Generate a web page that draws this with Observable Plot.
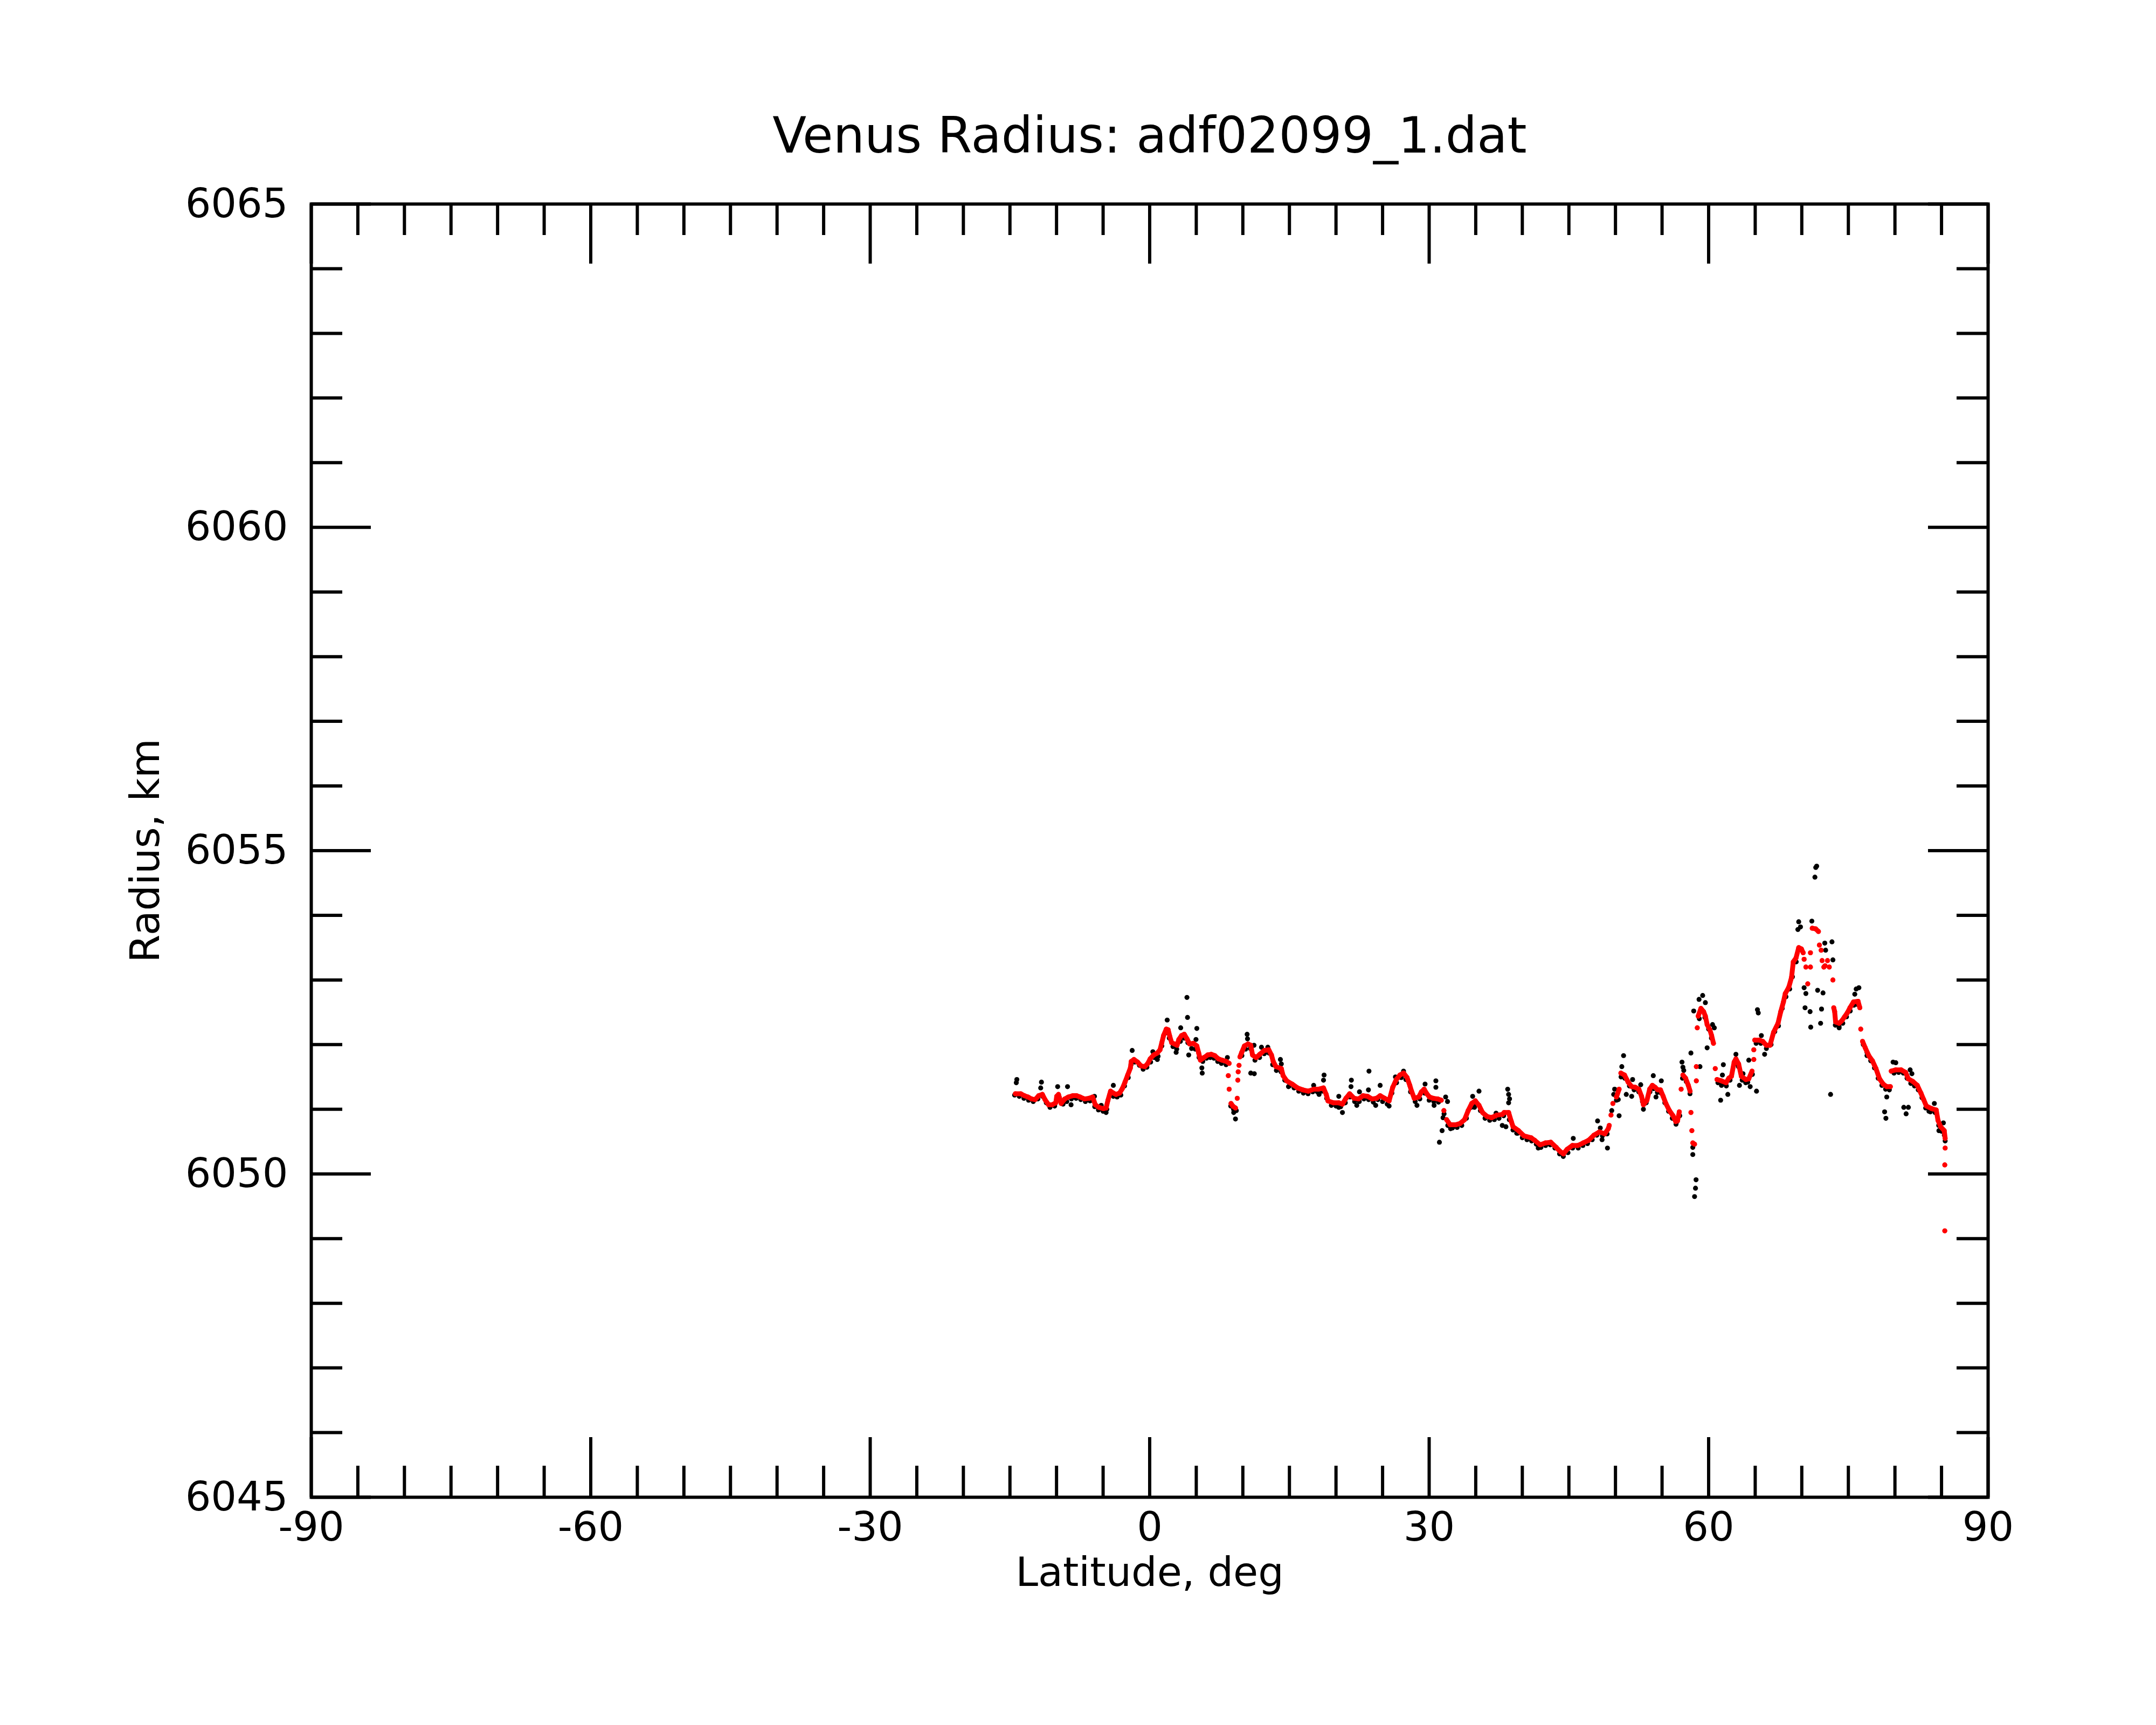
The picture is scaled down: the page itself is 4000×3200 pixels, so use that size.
<!DOCTYPE html>
<html>
<head>
<meta charset="utf-8">
<script src="https://cdn.jsdelivr.net/npm/d3@7"></script>
<script src="https://cdn.jsdelivr.net/npm/@observablehq/plot@0.6"></script>
<style>
html, body { margin: 0; padding: 0; background: #ffffff; }
svg { display: block; }
</style>
</head>
<body>
<div id="chart"></div>
<script>
// ---------- text ----------
const titleText = "Venus Radius: adf02099_1.dat";
const xLabelText = "Latitude, deg";
const yLabelText = "Radius, km";

// ---------- axes ----------
const xDomain = [-90, 90];
const yDomain = [6045, 6065];
const xMajorTicks = [-90, -60, -30, 0, 30, 60, 90];
const xMinorTicks = [-85, -80, -75, -70, -65, -55, -50, -45, -40, -35, -25, -20, -15, -10, -5,
                     5, 10, 15, 20, 25, 35, 40, 45, 50, 55, 65, 70, 75, 80, 85];
const yMajorTicks = [6045, 6050, 6055, 6060, 6065];
const yMinorTicks = [6046, 6047, 6048, 6049, 6051, 6052, 6053, 6054, 6056, 6057, 6058, 6059,
                     6061, 6062, 6063, 6064];

// ---------- smoothed radius (red), [latitude, radius km], grouped in runs ----------
const smoothedRuns = [
  [[-14.42,6051.24],[-13.84,6051.24],[-13.45,6051.21],[-13.07,6051.19],[-12.68,6051.16],[-12.3,6051.15],
   [-11.91,6051.21],[-11.52,6051.23],[-11.24,6051.15],[-10.85,6051.07],[-10.46,6051.07],[-10.08,6051.10],
   [-9.98,6051.20],[-9.79,6051.23],[-9.5,6051.09],[-9.11,6051.16],[-8.73,6051.19],[-8.25,6051.21],
   [-7.86,6051.21],[-7.47,6051.19],[-6.99,6051.16],[-6.51,6051.17],[-6.12,6051.19],[-5.84,6051.07],
   [-5.45,6051.03],[-4.97,6051.01],[-4.68,6051.02],[-4.48,6051.14],[-4.2,6051.28],[-3.9,6051.25],
   [-3.62,6051.23],[-3.23,6051.25],[-2.94,6051.32],[-2.65,6051.42],[-2.36,6051.53],[-2.07,6051.64],
   [-1.98,6051.74],[-1.69,6051.77],[-1.3,6051.73],[-0.92,6051.67],[-0.53,6051.66],[-0.24,6051.70],
   [0.05,6051.78],[0.43,6051.84],[0.82,6051.87],[1.11,6051.92],[1.3,6052.03],[1.49,6052.14],
   [1.78,6052.24],[1.98,6052.23],[2.17,6052.12],[2.36,6052.03],[2.65,6052.01],[2.94,6051.99],
   [3.13,6052.08],[3.42,6052.14],[3.71,6052.16],[4.0,6052.09],[4.29,6052.01],[4.68,6052.02],
   [5.06,6051.98],[5.26,6051.87],[5.45,6051.76],[5.83,6051.80],[6.22,6051.84],[6.6,6051.85],
   [6.99,6051.83],[7.38,6051.78],[7.76,6051.76],[8.24,6051.74],[8.53,6051.71]],
  [[8.44,6051.52]],
  [[8.53,6051.31]],
  [[8.73,6051.09],[8.92,6051.05],[9.21,6051.02]],
  [[9.4,6051.17]],
  [[9.46,6051.45]],
  [[9.5,6051.58]],
  [[9.59,6051.68]],
  [[9.69,6051.81],[9.88,6051.88],[10.17,6051.98],[10.56,6052.01],[10.85,6051.99],[11.04,6051.84],
   [11.33,6051.81],[11.43,6051.80],[11.82,6051.85],[12.3,6051.91],[12.78,6051.92],[13.07,6051.84],
   [13.26,6051.74],[13.55,6051.66],[14.13,6051.63],[14.32,6051.52],[14.71,6051.44],[15.29,6051.39],
   [15.87,6051.33],[16.44,6051.30],[17.02,6051.28],[17.6,6051.31],[18.08,6051.31],[18.66,6051.33],
   [18.95,6051.23],[19.14,6051.13],[19.72,6051.10],[20.3,6051.10],[20.69,6051.08],[21.07,6051.17],
   [21.46,6051.24],[21.94,6051.17],[22.42,6051.16],[22.91,6051.21],[23.39,6051.20],[23.87,6051.16],
   [24.35,6051.17],[24.74,6051.21],[25.22,6051.17],[25.7,6051.13],[26.09,6051.34],[26.47,6051.46],
   [26.86,6051.53],[27.25,6051.56],[27.63,6051.49],[27.92,6051.37],[28.11,6051.28],[28.4,6051.17],
   [28.88,6051.19],[29.17,6051.27],[29.46,6051.31],[29.75,6051.24],[30.04,6051.19],[30.43,6051.17],
   [30.91,6051.16],[31.3,6051.14]],
  [[31.58,6050.98]],
  [[31.87,6050.84],[32.26,6050.76],[32.84,6050.76],[33.32,6050.78],[33.8,6050.84],[34.19,6050.98],
   [34.57,6051.09],[34.96,6051.13],[35.35,6051.06],[35.73,6050.95],[36.21,6050.89],[36.7,6050.87],
   [37.27,6050.91],[37.85,6050.92],[38.05,6050.95],[38.53,6050.95],[38.82,6050.81],[39.01,6050.73],
   [39.59,6050.67],[40.17,6050.59],[40.94,6050.56],[41.33,6050.52],[41.91,6050.45],[42.48,6050.48],
   [43.06,6050.49],[43.64,6050.41],[44.12,6050.34],[44.41,6050.31],[44.8,6050.38],[45.38,6050.44],
   [45.96,6050.44],[46.53,6050.48],[47.11,6050.52],[47.69,6050.60],[48.27,6050.65],[48.85,6050.62],
   [49.23,6050.70],[49.33,6050.75]],
  [[49.52,6050.91]],
  [[49.72,6051.09]],
  [[50.1,6051.19],[50.39,6051.31]],
  [[50.58,6051.56],[50.97,6051.53],[51.36,6051.42],[51.74,6051.35],[52.13,6051.34],[52.51,6051.31],
   [52.8,6051.20],[53.0,6051.07],[53.38,6051.14],[53.67,6051.31],[53.96,6051.37],[54.25,6051.34],
   [54.54,6051.30],[54.83,6051.30],[55.12,6051.20],[55.41,6051.09],[55.79,6050.98],[56.18,6050.90],
   [56.47,6050.81],[56.66,6050.82],[56.85,6050.96]],
  [[57.05,6051.31]],
  [[57.24,6051.53],[57.53,6051.48],[57.82,6051.37],[58.01,6051.28]],
  [[58.1,6050.95]],
  [[58.2,6050.67]],
  [[58.3,6050.48],[58.49,6050.46]],
  [[58.68,6051.44]],
  [[58.68,6051.66]],
  [[58.78,6052.26]],
  [[58.88,6052.44],[59.17,6052.56],[59.46,6052.51],[59.65,6052.44],[59.84,6052.31],[60.13,6052.23],
   [60.32,6052.14],[60.52,6052.02]],
  [[60.71,6051.63]],
  [[60.9,6051.46],[61.38,6051.44],[61.87,6051.41],[62.16,6051.48],[62.45,6051.51],[62.74,6051.73],
   [62.93,6051.78],[63.22,6051.70],[63.51,6051.51],[64.0,6051.46],[64.3,6051.47],[64.66,6051.59]],
  [[64.85,6051.77]],
  [[64.85,6051.92]],
  [[64.95,6052.07],[65.43,6052.07],[65.81,6052.05],[66.2,6051.99],[66.59,6051.99],[66.97,6052.19],
   [67.45,6052.33],[67.74,6052.51],[68.03,6052.66],[68.23,6052.79],[68.61,6052.89],[68.9,6053.04],
   [69.09,6053.28],[69.38,6053.34],[69.67,6053.50],[69.96,6053.48],[70.15,6053.42]],
  [[70.25,6053.32]],
  [[70.44,6053.20]],
  [[70.64,6052.94]],
  [[70.93,6053.20]],
  [[70.93,6053.42]],
  [[71.12,6053.80],[71.5,6053.79],[71.79,6053.75]],
  [[71.89,6053.54]],
  [[72.08,6053.46]],
  [[72.18,6053.30]],
  [[72.37,6053.20],[72.5,6053.22]],
  [[72.76,6053.30]],
  [[72.95,6053.20]],
  [[73.34,6053.00]],
  [[73.43,6052.57],[73.53,6052.51],[73.63,6052.35],[74.01,6052.33],[74.3,6052.37],[74.59,6052.43],
   [74.88,6052.49],[75.17,6052.57],[75.55,6052.66],[76.04,6052.67],[76.23,6052.57]],
  [[76.33,6052.24]],
  [[76.52,6052.05],[76.81,6051.95],[77.19,6051.83],[77.58,6051.75],[77.96,6051.63],[78.35,6051.47],
   [78.74,6051.39],[79.12,6051.35],[79.51,6051.35]],
  [[79.6,6051.59],[80.09,6051.61],[80.66,6051.61],[81.15,6051.57],[81.44,6051.47],[81.92,6051.43],
   [82.4,6051.37],[82.79,6051.25],[83.08,6051.15],[83.37,6051.05],[83.94,6051.01],[84.43,6050.99],
   [84.62,6050.83],[84.91,6050.73],[85.29,6050.67],[85.39,6050.55]],
  [[85.39,6050.40]],
  [[85.35,6050.14]],
  [[85.35,6049.12]]
];

// ---------- raw radius samples (black), [latitude, radius km] ----------
const rawTrack = [
  [-14.5,6051.22],[-14.0,6051.20],[-13.5,6051.17],[-13.0,6051.14],[-12.5,6051.12],[-12.0,6051.16],
  [-11.5,6051.20],[-11.1,6051.10],[-10.7,6051.03],[-10.2,6051.05],[-9.7,6051.18],[-9.3,6051.08],
  [-8.9,6051.12],[-8.4,6051.16],[-7.9,6051.17],[-7.4,6051.15],[-6.9,6051.12],[-6.4,6051.13],
  [-5.9,6051.04],[-5.5,6050.99],[-5.0,6050.97],[-4.6,6051.00],[-4.3,6051.22],[-3.9,6051.20],
  [-3.5,6051.19],[-3.1,6051.22],[-2.7,6051.36],[-2.3,6051.49],[-2.0,6051.69],[-1.6,6051.73],
  [-1.1,6051.68],[-0.7,6051.62],[-0.3,6051.65],[0.1,6051.73],[0.5,6051.80],[0.9,6051.82],
  [1.3,6051.98],[1.7,6052.18],[2.1,6052.10],[2.5,6051.97],[2.9,6051.93],[3.3,6052.05],
  [3.7,6052.10],[4.1,6052.03],[4.5,6051.94],[4.9,6051.93],[5.3,6051.80],[5.7,6051.74],
  [6.1,6051.79],[6.5,6051.80],[6.9,6051.79],[7.3,6051.74],[7.7,6051.71],[8.2,6051.69],
  [8.7,6051.05],[9.0,6051.00],[9.3,6050.98],[9.9,6051.83],[10.3,6051.93],[10.8,6051.94],
  [11.3,6051.76],[11.8,6051.80],[12.3,6051.86],[12.8,6051.87],[13.2,6051.69],[13.6,6051.60],
  [14.1,6051.58],[14.5,6051.45],[15.0,6051.36],[15.5,6051.33],[16.0,6051.28],[16.5,6051.25],
  [17.0,6051.24],[17.5,6051.27],[18.0,6051.27],[18.5,6051.28],[19.0,6051.17],[19.5,6051.06],
  [20.0,6051.05],[20.5,6051.04],[21.0,6051.10],[21.5,6051.19],[22.0,6051.12],[22.5,6051.12],
  [23.0,6051.16],[23.5,6051.15],[24.0,6051.11],[24.5,6051.15],[25.0,6051.12],[25.5,6051.08],
  [26.0,6051.25],[26.5,6051.41],[27.0,6051.49],[27.5,6051.46],[28.0,6051.27],[28.5,6051.12],
  [29.0,6051.16],[29.5,6051.25],[30.0,6051.14],[30.5,6051.12],[31.0,6051.11],[31.6,6050.93],
  [32.0,6050.75],[32.5,6050.71],[33.0,6050.72],[33.5,6050.75],[34.0,6050.86],[34.5,6051.03],
  [35.0,6051.08],[35.5,6050.98],[36.0,6050.86],[36.5,6050.83],[37.0,6050.84],[37.5,6050.86],
  [38.0,6050.90],[38.6,6050.84],[39.0,6050.68],[39.5,6050.63],[40.0,6050.56],[40.5,6050.53],
  [41.0,6050.51],[41.5,6050.46],[42.0,6050.41],[42.5,6050.44],[43.0,6050.45],[43.5,6050.40],
  [44.0,6050.31],[44.4,6050.27],[44.9,6050.33],[45.4,6050.40],[46.0,6050.40],[46.5,6050.44],
  [47.0,6050.47],[47.5,6050.53],[48.0,6050.60],[48.6,6050.59],[49.1,6050.62],[49.6,6050.98],
  [50.1,6051.14],[50.6,6051.50],[51.0,6051.48],[51.5,6051.36],[52.0,6051.30],[52.5,6051.27],
  [52.9,6051.12],[53.3,6051.10],[53.7,6051.27],[54.1,6051.32],[54.5,6051.26],[54.9,6051.25],
  [55.3,6051.10],[55.7,6050.97],[56.1,6050.86],[56.5,6050.77],[56.9,6050.90],[57.2,6051.48],
  [57.6,6051.43],[58.0,6051.24],[59.0,6052.40],[59.3,6052.52],[59.6,6052.42],[60.0,6052.24],
  [60.3,6052.10],[61.0,6051.41],[61.5,6051.40],[61.9,6051.36],[62.3,6051.45],[62.8,6051.70],
  [63.2,6051.66],[63.6,6051.45],[64.2,6051.42],[64.7,6051.54],[65.1,6052.02],[65.6,6052.02],
  [66.2,6051.94],[66.7,6052.00],[67.1,6052.20],[67.5,6052.29],[67.9,6052.56],[68.3,6052.74],
  [68.7,6052.86],[69.0,6053.05],[69.4,6053.28],[73.6,6052.30],[74.0,6052.28],[74.4,6052.33],
  [74.8,6052.43],[75.2,6052.52],[75.6,6052.61],[76.0,6052.62],[76.6,6052.00],[77.0,6051.88],
  [77.4,6051.75],[77.8,6051.64],[78.2,6051.48],[78.6,6051.37],[79.0,6051.31],[79.4,6051.30],
  [79.9,6051.56],[80.4,6051.57],[80.9,6051.56],[81.3,6051.48],[81.7,6051.40],[82.1,6051.36],
  [82.5,6051.30],[82.9,6051.18],[83.3,6051.02],[83.8,6050.96],[84.3,6050.95],[84.7,6050.75],
  [85.0,6050.66],[85.3,6050.60]
];
const rawScatter = [
  [-14.26,6051.46],[-14.32,6051.41],[-11.62,6051.42],[-11.70,6051.33],[-9.88,6051.35],[-8.82,6051.35],
  [-8.44,6051.07],[-5.93,6051.20],[-3.90,6051.37],[-4.68,6050.95],[-5.2,6051.06],[-1.88,6051.91],
  [0.82,6051.77],[0.34,6051.89],[1.88,6052.38],[4.00,6052.73],[4.06,6052.42],[3.33,6052.26],
  [5.06,6052.25],[4.97,6052.08],[2.84,6051.88],[4.19,6051.84],[5.64,6051.56],[5.60,6051.64],
  [8.34,6051.80],[9.21,6050.85],[9.02,6050.95],[10.46,6052.16],[10.50,6052.09],[11.20,6051.99],
  [11.23,6051.55],[10.85,6051.56],
  [12.0,6051.96],[12.68,6051.96],[14.03,6051.77],[14.13,6051.70],[14.9,6051.35],[17.6,6051.37],
  [18.18,6051.23],[18.72,6051.53],[18.66,6051.45],[20.3,6051.20],[20.69,6050.95],[20.3,6051.03],
  [21.65,6051.45],[21.61,6051.35],[22.52,6051.27],[22.23,6051.06],[23.54,6051.59],[23.48,6051.30],
  [24.74,6051.37],[24.26,6051.06],[25.7,6051.05],[26.38,6051.50],[27.25,6051.59],[28.69,6051.06],
  [29.56,6051.39],[30.72,6051.44],[30.72,6051.34],[30.53,6051.06],[31.77,6051.19],[31.97,6051.12],
  [31.39,6050.67],[31.10,6050.49],[31.49,6050.87],[34.67,6051.20],[35.35,6051.28],[34.86,6051.03],
  [32.3,6050.70],[37.18,6050.94],[37.85,6050.75],
  [38.43,6051.31],[38.53,6051.23],[38.63,6051.16],[38.53,6051.10],[38.24,6050.73],[39.40,6050.63],
  [41.71,6050.40],[45.47,6050.55],[48.08,6050.82],[48.37,6050.71],[48.56,6050.53],[49.14,6050.40],
  [49.91,6051.31],[49.81,6051.23],[50.30,6051.15],[50.39,6050.90],[50.87,6051.83],[50.68,6051.66],
  [51.16,6051.23],[51.74,6051.20],[51.84,6051.46],[52.71,6051.38],[53.00,6051.00],[54.06,6051.52],
  [54.35,6051.19],[54.92,6051.44],[56.56,6050.80],[57.14,6051.73],[57.24,6051.65],[57.33,6051.60],
  [58.10,6051.87],[58.30,6050.41],[58.30,6050.30],[58.65,6049.91],[58.59,6049.78],[58.49,6049.65],
  [58.40,6052.52],[58.97,6052.70],[59.36,6052.76],[59.65,6052.65],[59.07,6051.66],[59.84,6051.95],
  [60.42,6052.31],[60.61,6052.26],[61.29,6051.14],[61.38,6051.37],[61.58,6051.69],[61.48,6051.53],
  [62.06,6051.23],[62.93,6051.85],[63.31,6051.37],
  [71.50,6054.74],[71.41,6054.59],[71.60,6054.76],[69.67,6053.90],[69.58,6053.78],[69.86,6053.82],
  [71.08,6053.91],[72.47,6053.57],[73.24,6053.59],[72.56,6053.46],[73.34,6053.31],[70.25,6052.88],
  [70.44,6052.79],[71.70,6052.84],[72.28,6052.80],[70.35,6052.57],[70.89,6052.51],[72.12,6052.55],
  [70.96,6052.27],[72.02,6052.33],[73.09,6051.23],[65.24,6052.54],[65.33,6052.49],[65.66,6052.14],
  [66.01,6051.85],[64.31,6051.76],[63.69,6051.55],[63.98,6051.41],[64.46,6051.35],[65.14,6051.28],
  [75.84,6052.86],[76.13,6052.88],[75.69,6052.78],[74.01,6052.26],[77.00,6051.83],[79.12,6051.19],
  [78.89,6050.96],[79.03,6050.86],[79.80,6051.73],[80.09,6051.72],[81.63,6051.61],[81.82,6051.55],
  [80.95,6051.03],[81.44,6051.03],[81.20,6050.93],[84.23,6051.09],[83.65,6050.97],[85.20,6050.79],
  [84.72,6050.67],[85.39,6050.51]
];

// ---------- build tables ----------
const smoothed = smoothedRuns.flatMap((run, i) => run.map(([lat, r]) => ({lat, r, run: i})));
const raw = rawTrack.concat(rawScatter).map(([lat, r]) => ({lat, r}));

// ---------- layout (pixels) ----------
const W = 4000, H = 3200;
const ML = 577, MR = 312, MT = 378, MB = 423;
const FW = W - ML - MR, FH = H - MT - MB;
const majorLen = 111, minorLen = 58, lineW = 6;
const tickFont = 75, titleFont = 92;
const dotR = 4.6;

const chart = Plot.plot({
  width: W,
  height: H,
  marginLeft: ML,
  marginRight: MR,
  marginTop: MT,
  marginBottom: MB,
  x: {domain: xDomain},
  y: {domain: yDomain},
  style: {fontFamily: "DejaVu Sans", background: "#ffffff", color: "#000000"},
  marks: [
    Plot.dot(raw, {x: "lat", y: "r", r: dotR, fill: "#000000", stroke: "none"}),
    Plot.line(smoothed, {x: "lat", y: "r", z: "run", stroke: "#ff0000", strokeWidth: 9,
                         strokeLinecap: "round", strokeLinejoin: "round"}),
    Plot.dot(smoothed, {x: "lat", y: "r", r: dotR, fill: "#ff0000", stroke: "none"}),

    // inward ticks: bottom / top
    Plot.ruleX(xMajorTicks, {x: d => d, insetTop: FH - majorLen, stroke: "#000", strokeWidth: lineW}),
    Plot.ruleX(xMajorTicks, {x: d => d, insetBottom: FH - majorLen, stroke: "#000", strokeWidth: lineW}),
    Plot.ruleX(xMinorTicks, {x: d => d, insetTop: FH - minorLen, stroke: "#000", strokeWidth: lineW}),
    Plot.ruleX(xMinorTicks, {x: d => d, insetBottom: FH - minorLen, stroke: "#000", strokeWidth: lineW}),
    // inward ticks: left / right
    Plot.ruleY(yMajorTicks, {y: d => d, insetRight: FW - majorLen, stroke: "#000", strokeWidth: lineW}),
    Plot.ruleY(yMajorTicks, {y: d => d, insetLeft: FW - majorLen, stroke: "#000", strokeWidth: lineW}),
    Plot.ruleY(yMinorTicks, {y: d => d, insetRight: FW - minorLen, stroke: "#000", strokeWidth: lineW}),
    Plot.ruleY(yMinorTicks, {y: d => d, insetLeft: FW - minorLen, stroke: "#000", strokeWidth: lineW}),

    Plot.frame({stroke: "#000", strokeWidth: lineW}),

    Plot.axisX({anchor: "bottom", ticks: xMajorTicks, tickSize: 0, tickPadding: 27,
                fontSize: tickFont, tickFormat: d => String(d), label: null}),
    Plot.axisY({anchor: "left", ticks: yMajorTicks, tickSize: 0, tickPadding: 43,
                fontSize: tickFont, tickFormat: d => String(d), label: null}),

    Plot.text([titleText], {text: d => d, frameAnchor: "top", dy: -96, lineAnchor: "bottom",
                            textAnchor: "middle", fontSize: titleFont, fill: "#000"}),
    Plot.text([xLabelText], {text: d => d, frameAnchor: "bottom", dy: 164, lineAnchor: "bottom",
                             textAnchor: "middle", fontSize: tickFont, fill: "#000"}),
    Plot.text([yLabelText], {text: d => d, frameAnchor: "left", dx: -283, rotate: -90,
                             textAnchor: "middle", lineAnchor: "bottom", fontSize: tickFont, fill: "#000"})
  ]
});
document.getElementById("chart").appendChild(chart);
</script>
</body>
</html>
